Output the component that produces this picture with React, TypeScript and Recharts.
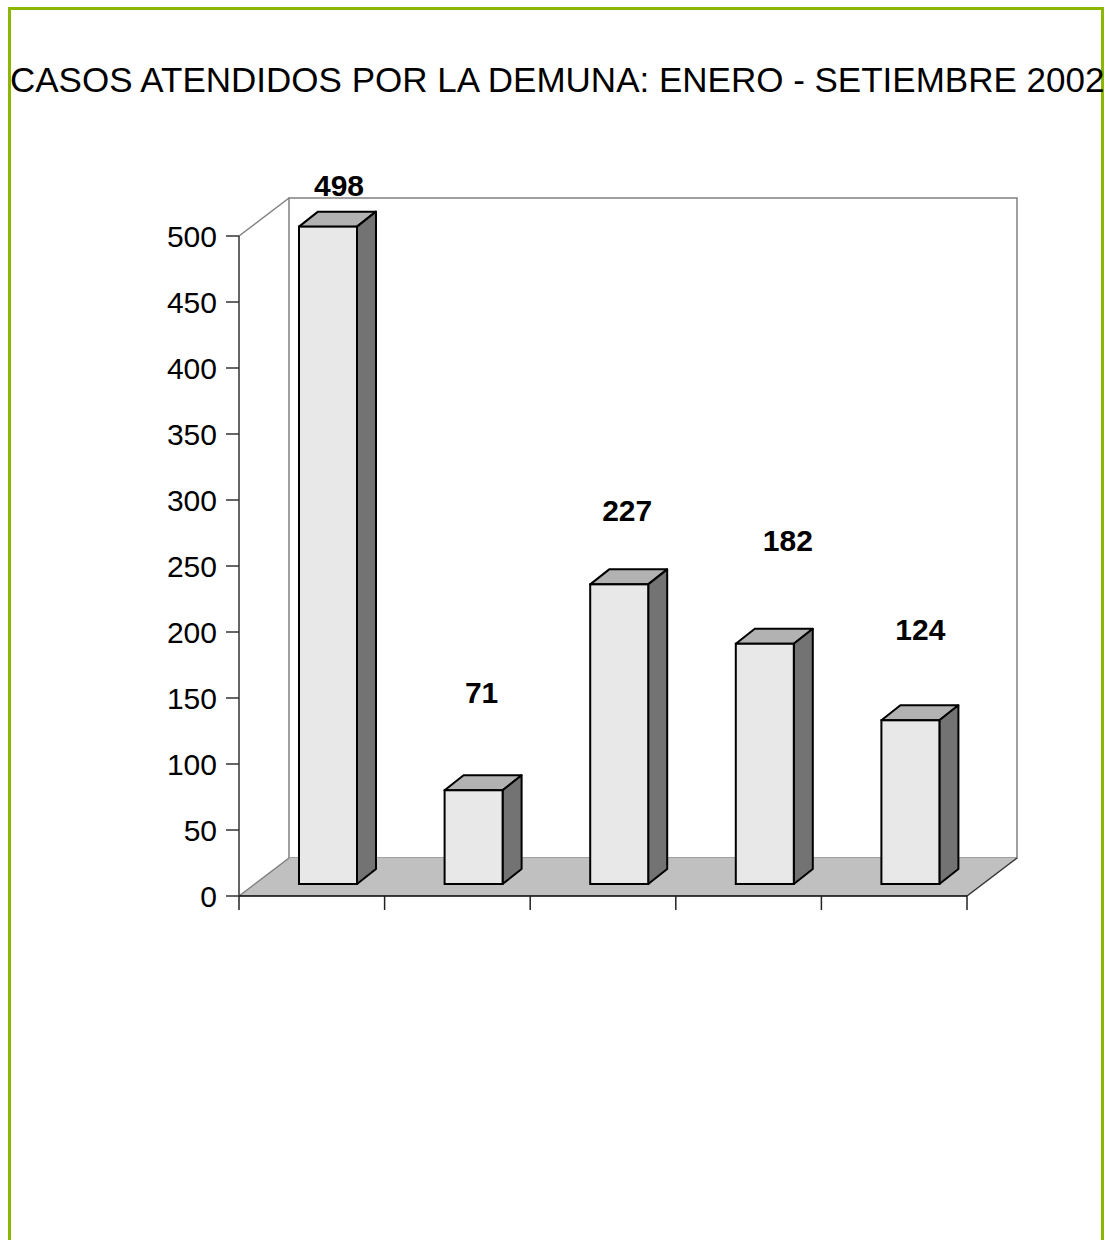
import React from 'react';
import { BarChart, Bar, XAxis, YAxis, LabelList } from 'recharts';

const TITLE = 'CASOS ATENDIDOS POR LA DEMUNA: ENERO - SETIEMBRE 2002';
const CATEGORIES = ['1', '2', '3', '4', '5'];
const CASES = [498, 71, 227, 182, 124];
const Y_TICKS = [0, 50, 100, 150, 200, 250, 300, 350, 400, 450, 500];

const data = CATEGORIES.map((name, i) => ({ name, casos: CASES[i] }));

// layout of the page / plot box
const W = 1109;
const H = 1240;
const PLOT_LEFT = 239;
const PLOT_RIGHT = 967;
const PLOT_TOP = 236;
const PLOT_BOTTOM = 896;
const BAND = (PLOT_RIGHT - PLOT_LEFT) / CATEGORIES.length;

// fake 3d
const DEPTH_X = 50;
const DEPTH_Y = 38;
const BAR_SHIFT_X = 16;
const BAR_SHIFT_Y = 12;
const BAR_DX = 19;
const BAR_DY = 15;

// label nudges (excel put them a bit everywhere)
const LABEL_NUDGE = [
  [11, -31],
  [8, -87],
  [8, -63],
  [23, -93],
  [10, -80],
];

const FONT = "Arial, 'Liberation Sans', sans-serif";

const Bar3D = (props: any) => {
  const { x, y, width, height } = props;
  const fx = x + BAR_SHIFT_X;
  const fy = y - BAR_SHIFT_Y;
  const fb = fy + height;
  const r = fx + width;
  return (
    <g>
      <polygon
        points={`${fx},${fy} ${fx + BAR_DX},${fy - BAR_DY} ${r + BAR_DX},${fy - BAR_DY} ${r},${fy}`}
        fill="#b2b2b2"
        stroke="#000"
        strokeWidth={2}
        strokeLinejoin="round"
      />
      <polygon
        points={`${r},${fy} ${r + BAR_DX},${fy - BAR_DY} ${r + BAR_DX},${fb - BAR_DY} ${r},${fb}`}
        fill="#737373"
        stroke="#000"
        strokeWidth={2}
        strokeLinejoin="round"
      />
      <rect x={fx} y={fy} width={width} height={height} fill="#e8e8e8" stroke="#000" strokeWidth={2} />
    </g>
  );
};

const renderLabel = (props: any) => {
  const { x, y, width, value, index } = props;
  const i = typeof index === 'number' ? index : CASES.indexOf(Number(value));
  const [dx, dy] = LABEL_NUDGE[i] || [0, -20];
  return (
    <text
      x={Number(x) + BAR_SHIFT_X + Number(width) / 2 + dx}
      y={Number(y) - BAR_SHIFT_Y + dy}
      textAnchor="middle"
      fontFamily={FONT}
      fontWeight="bold"
      fontSize={30}
      fill="#000"
    >
      {value}
    </text>
  );
};

const XTick = (props: any) => {
  const { x, index } = props;
  const left = x - BAND / 2;
  const right = x + BAND / 2;
  return (
    <g>
      <line x1={left} y1={PLOT_BOTTOM} x2={left} y2={PLOT_BOTTOM + 14} stroke="#222" strokeWidth={1.5} />
      {index === CATEGORIES.length - 1 && (
        <line x1={right} y1={PLOT_BOTTOM} x2={right} y2={PLOT_BOTTOM + 14} stroke="#222" strokeWidth={1.5} />
      )}
    </g>
  );
};

const Backdrop = () => (
  <svg width={W} height={H} style={{ position: 'absolute', left: 0, top: 0 }}>
    <text x={10} y={92} fontFamily={FONT} fontSize={35} fill="#000">
      {TITLE}
    </text>
    <rect
      x={PLOT_LEFT + DEPTH_X}
      y={PLOT_TOP - DEPTH_Y}
      width={PLOT_RIGHT - PLOT_LEFT}
      height={PLOT_BOTTOM - PLOT_TOP}
      fill="#fff"
      stroke="#808080"
      strokeWidth={1.5}
    />
    <line
      x1={PLOT_LEFT}
      y1={PLOT_TOP}
      x2={PLOT_LEFT + DEPTH_X}
      y2={PLOT_TOP - DEPTH_Y}
      stroke="#808080"
      strokeWidth={1.5}
    />
    <polygon
      points={`${PLOT_LEFT},${PLOT_BOTTOM} ${PLOT_RIGHT},${PLOT_BOTTOM} ${PLOT_RIGHT + DEPTH_X},${PLOT_BOTTOM - DEPTH_Y} ${PLOT_LEFT + DEPTH_X},${PLOT_BOTTOM - DEPTH_Y}`}
      fill="#c0c0c0"
    />
    <line
      x1={PLOT_LEFT}
      y1={PLOT_BOTTOM}
      x2={PLOT_LEFT + DEPTH_X}
      y2={PLOT_BOTTOM - DEPTH_Y}
      stroke="#808080"
      strokeWidth={1.5}
    />
    <line
      x1={PLOT_RIGHT}
      y1={PLOT_BOTTOM}
      x2={PLOT_RIGHT + DEPTH_X}
      y2={PLOT_BOTTOM - DEPTH_Y}
      stroke="#333"
      strokeWidth={1.5}
    />
  </svg>
);

export default function App() {
  return (
    <>
      <div
        style={{
          position: 'absolute',
          left: 8,
          top: 7,
          width: 1096,
          height: 1233,
          boxSizing: 'border-box',
          border: '3px solid #8db600',
          borderBottom: 'none',
        }}
      />
      <Backdrop />
      <div style={{ position: 'absolute', left: 0, top: 0, width: W, height: H }}>
        <BarChart
          width={W}
          height={H}
          data={data}
          margin={{ top: PLOT_TOP, right: W - PLOT_RIGHT, bottom: H - PLOT_BOTTOM - 30, left: 0 }}
        >
          <XAxis
            dataKey="name"
            height={30}
            axisLine={{ stroke: '#000', strokeWidth: 1.5 }}
            tickLine={false}
            tick={<XTick />}
            interval={0}
          />
          <YAxis
            width={PLOT_LEFT}
            domain={[0, 500]}
            ticks={Y_TICKS}
            interval={0}
            tickSize={13}
            tickMargin={9}
            axisLine={{ stroke: '#333', strokeWidth: 1.5 }}
            tickLine={{ stroke: '#333', strokeWidth: 1.5 }}
            tick={{ fill: '#000', fontSize: 30, fontFamily: FONT }}
          />
          <Bar dataKey="casos" barSize={58} shape={<Bar3D />} isAnimationActive={false}>
            <LabelList dataKey="casos" content={renderLabel} />
          </Bar>
        </BarChart>
      </div>
    </>
  );
}
